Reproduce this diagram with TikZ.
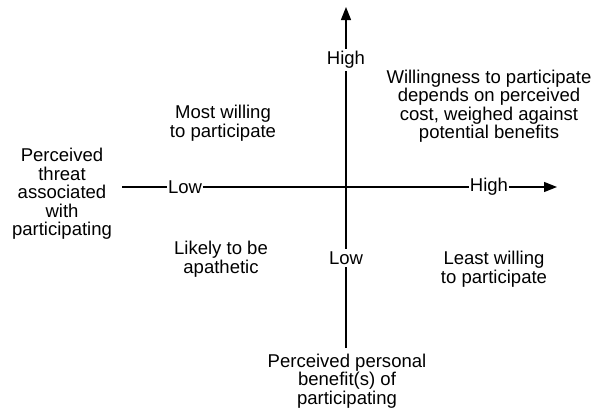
\documentclass[tikz,border=0pt]{standalone}
\usepackage{fontspec}
\setmainfont{Liberation Sans}
\usepackage{tikz}
\usetikzlibrary{arrows.meta, positioning}

\begin{document}
\begin{tikzpicture}[x=1bp, y=-1bp, >={Triangle[length=13bp, width=10bp]}, line width=1.3bp,
    txt/.style={align=center, font=\fontsize{18.6}{18.6}\selectfont, inner sep=0pt},
    axlabel/.style={font=\fontsize{18.6}{18.6}\selectfont, inner xsep=0pt, inner ysep=2bp}]
    \useasboundingbox (0,0) rectangle (598,408);
    % Horizontal axis: perceived threat
    \coordinate (xstart) at (122,187);
    \coordinate (xend) at (557,187);
    \node[axlabel] (xlow) at (185,187) {Low};
    \node[axlabel] (xhigh) at (489,187) {High};
    \draw[->] (xstart) -- (xlow) -- (xhigh) -- (xend);
    % Vertical axis: perceived benefit
    \coordinate (ystart) at (346,348);
    \coordinate (yend) at (346,7);
    \node[axlabel] (ylow) at (346,258) {Low};
    \node[axlabel] (yhigh) at (346,60) {High};
    \draw[->] (ystart) -- (ylow) -- (yhigh) -- (yend);
    % Axis titles
    \node[txt] (threat) at (62,194) {Perceived\\threat\\associated\\with\\participating};
    \node[txt] (benefit) at (347,381) {Perceived personal\\benefit(s) of\\participating};
    % Quadrant texts
    \node[txt] (mostwilling) at (223,123) {Most willing\\to participate};
    \node[txt] (depends) at (489,106) {Willingness to participate\\depends on perceived\\cost, weighed against\\potential benefits};
    \node[txt] (apathetic) at (221,259) {Likely to be\\apathetic};
    \node[txt] (leastwilling) at (494,269) {Least willing\\to participate};
\end{tikzpicture}
\end{document}
